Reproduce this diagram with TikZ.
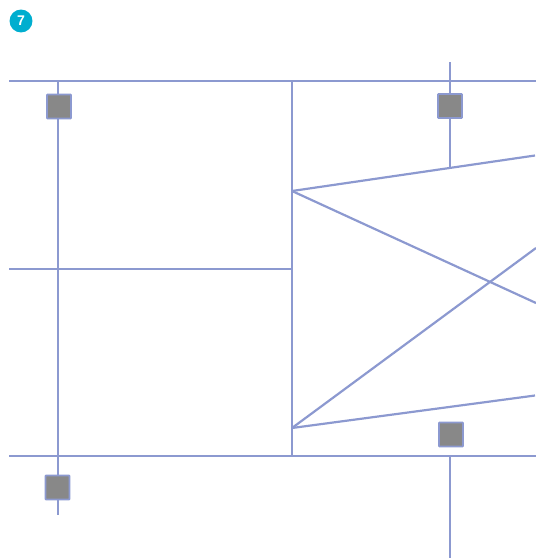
\documentclass[tikz,border=0pt]{standalone}
\usepackage{fontspec}
\setmainfont{Liberation Sans}
\definecolor{wire}{RGB}{140,153,208}
\definecolor{breaker}{RGB}{136,136,136}
\definecolor{badge}{RGB}{0,174,207}
\tikzset{
  wire/.style={draw=wire, line width=1.25pt},
  breaker/.style={draw=wire, fill=breaker, line width=1pt, minimum size=0.48cm, inner sep=0pt, rounded corners=0.4pt},
  badge/.style={circle, fill=badge, text=white, minimum size=0.46cm, inner sep=0pt, font=\bfseries\footnotesize}
}
\begin{document}
\begin{tikzpicture}[x=0.02cm, y=-0.02cm]
\useasboundingbox (0,0) rectangle (536,558);

\node[badge] (num) at (21,21) {7};

\coordinate (topL) at (9,81);
\coordinate (topR) at (536,81);
\coordinate (midL) at (9,269);
\coordinate (midC) at (292,269);
\coordinate (botL) at (9,456);
\coordinate (botR) at (536,456);
\coordinate (colAtop) at (58,81);
\coordinate (colAbot) at (58,515);
\coordinate (colBtop) at (292,81);
\coordinate (colBbot) at (292,456);
\coordinate (colCtop) at (450,62);
\coordinate (colCbot) at (450,167);
\coordinate (colDtop) at (450,456);
\coordinate (colDbot) at (450,558);
\coordinate (crossU) at (292,191);
\coordinate (crossD) at (292,428);
\coordinate (endA) at (535,155.5);
\coordinate (endB) at (536,303);
\coordinate (endC) at (536,248);
\coordinate (endD) at (535,395.5);

\draw[wire] (topL) -- (topR);
\draw[wire] (midL) -- (midC);
\draw[wire] (botL) -- (botR);
\draw[wire] (colAtop) -- (colAbot);
\draw[wire] (colBtop) -- (colBbot);
\draw[wire] (colCtop) -- (colCbot);
\draw[wire] (colDtop) -- (colDbot);
\draw[wire] (crossU) -- (endA);
\draw[wire] (crossU) -- (endB);
\draw[wire] (crossD) -- (endC);
\draw[wire] (crossD) -- (endD);

\node[breaker] (brkA) at (59,106.5) {};
\node[breaker] (brkB) at (450,106) {};
\node[breaker] (brkC) at (451,434.5) {};
\node[breaker] (brkD) at (57.5,487.5) {};

\end{tikzpicture}
\end{document}
